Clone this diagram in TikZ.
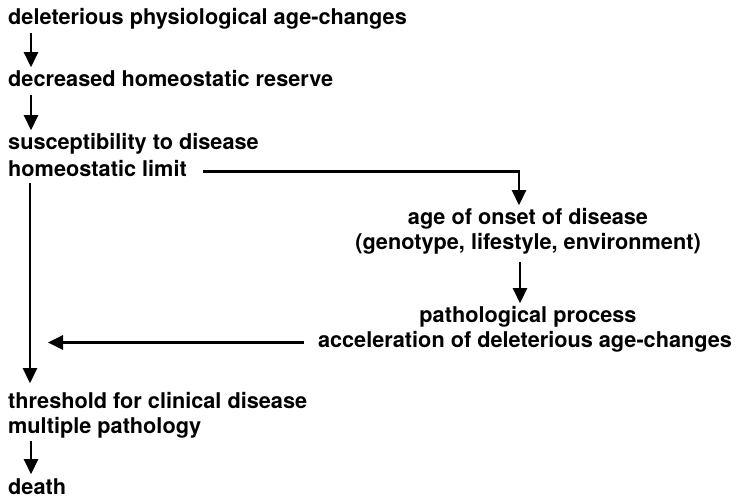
\documentclass[tikz,border=0pt]{standalone}
\usepackage{fontspec}
\setmainfont{TeX Gyre Heros}
\usepackage{tikz}
\usetikzlibrary{arrows.meta,calc}

\begin{document}
\begin{tikzpicture}[
					x = 1pt, y = -1pt,
					every node/.style = {font=\fontsize{21.7}{25}\selectfont\bfseries, inner sep=0pt, text height=15.6pt, text depth=4.6pt},
					lft/.style = {anchor=base west},
					rgt/.style = {anchor=base},
					arr/.style = {line width=2.6pt, -{Triangle[width=14pt,length=15pt]}}
					]

					\def\lx{8}
					\def\rx{528}

					\useasboundingbox (0,0) rectangle (740,500);

					\node[lft] (dele) at (\lx,25) {deleterious physiological age-changes};
					\node[lft] (decr) at (\lx,87) {decreased homeostatic reserve};
					\node[lft] (susc) at (\lx,150) {susceptibility to disease};
					\node[lft] (limit) at (\lx,177) {homeostatic limit};

					\node[rgt] (onset) at (\rx,225) {age of onset of disease};
					\node[rgt] (geno) at (\rx,250) {(genotype, lifestyle, environment)};
					\node[rgt] (patho) at (\rx,323) {pathological process};
					\node[rgt] (accel) at (\rx-3,348) {acceleration of deleterious age-changes};

					\node[lft] (thresh) at (\lx,408) {threshold for clinical disease};
					\node[lft] (multi) at (\lx,433) {multiple pathology};
					\node[lft] (death) at (\lx,494) {death};

					\draw[arr, shorten <=3.5pt, shorten >=4pt] ([xshift=23pt]dele.south west) -- ([xshift=23pt]decr.north west);
					\draw[arr, shorten <=3.5pt, shorten >=4pt] ([xshift=23pt]decr.south west) -- ([xshift=23pt]susc.north west);
					\draw[arr, shorten <=1pt, shorten >=9pt] ([xshift=22pt]limit.south west) -- ([xshift=22pt]thresh.north west);
					\draw[arr, shorten >=4pt] ([xshift=16.5pt]limit.east) -| ([xshift=-9pt]onset.north);
					\draw[arr, shorten <=7pt, shorten >=4pt] ([xshift=-8pt]geno.south) -- ([xshift=-8pt]patho.north);
					\draw[arr] ([xshift=-14pt]accel.west) -- ($(accel.west -| thresh.west)+(40,0)$);
					\draw[arr, shorten <=3.5pt, shorten >=4pt] ([xshift=23pt]multi.south west) -- ([xshift=23pt]death.north west);

				\end{tikzpicture}
\end{document}
